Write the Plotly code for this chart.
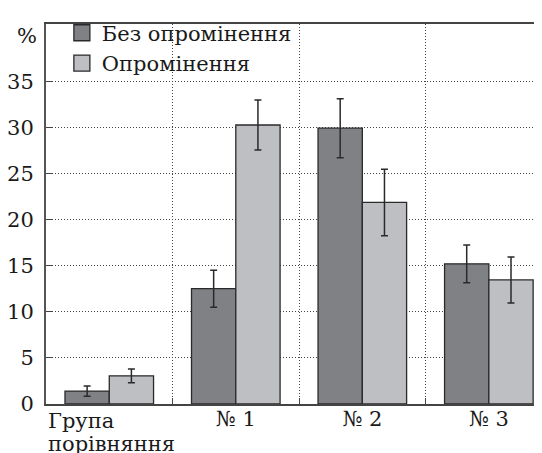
import plotly.graph_objects as go

categories = ["Група<br>порівняння", "№ 1", "№ 2", "№ 3"]
series_names = ["Без опромінення", "Опромінення"]
no_irr = [1.4, 12.5, 29.9, 15.2]
no_irr_err = [0.55, 2.0, 3.2, 2.05]
irr = [3.05, 30.25, 21.85, 13.45]
irr_err = [0.75, 2.7, 3.6, 2.5]
y_ticks = [0, 5, 10, 15, 20, 25, 30, 35]

DARK = "#808185"
LIGHT = "#bebfc3"
EDGE = "#2a2a2a"
FONT = "DejaVu Serif"
FS = 21

xs = list(range(len(categories)))
fig = go.Figure()
for name, vals, errs, col in [(series_names[0], no_irr, no_irr_err, DARK),
                              (series_names[1], irr, irr_err, LIGHT)]:
    fig.add_trace(go.Bar(
        x=xs, y=vals, name=name, showlegend=False,
        marker=dict(color=col, line=dict(color=EDGE, width=1.3)),
        error_y=dict(type="data", array=errs, color="#2a2a2a", thickness=1.5, width=3.5),
    ))
    fig.add_trace(go.Scatter(
        x=[None], y=[None], mode="markers", name=name,
        marker=dict(symbol="square", size=18, color=col, line=dict(color=EDGE, width=1.3)),
    ))

# category labels on a secondary x axis
fig.add_trace(go.Scatter(x=[None], y=[None], xaxis="x2", showlegend=False))

xr = [-0.5, 3.42]
grid = dict(showgrid=True, gridcolor="#444444", gridwidth=1, griddash="1px,2px")
first_lines = categories[0].split("<br>")
annotations = [
    dict(text="%", xref="paper", yref="paper", x=-0.038, y=0.969, xanchor="center",
         yanchor="middle", showarrow=False, font=dict(family=FONT, size=FS)),
]
for i, line in enumerate(first_lines):
    annotations.append(dict(text=line, xref="x", yref="paper", x=xr[0], y=0, xshift=0,
                            yshift=-17 - 23 * i, xanchor="left", yanchor="middle",
                            showarrow=False, font=dict(family=FONT, size=FS)))

fig.update_layout(
    width=542, height=453,
    margin=dict(l=38, r=8, t=5, b=57),
    paper_bgcolor="white", plot_bgcolor="white",
    barmode="group", bargap=0.3, bargroupgap=0,
    font=dict(family=FONT, size=FS, color="#1a1a1a"),
    xaxis=dict(type="linear", range=xr, tickvals=[0.5, 1.5, 2.5], showticklabels=False,
               ticks="inside", ticklen=6, tickcolor="#444", showline=True, linecolor="#444",
               linewidth=1.5, mirror=True, zeroline=False, automargin=False, **grid),
    xaxis2=dict(type="linear", range=xr, overlaying="x", anchor="y", side="bottom",
                tickvals=xs[1:], ticktext=categories[1:], showgrid=False, ticks="",
                showline=False, zeroline=False, automargin=False,
                tickfont=dict(family=FONT, size=FS)),
    yaxis=dict(range=[0, 41.2], tickvals=y_ticks, ticks="inside", ticklen=6, tickcolor="#444",
               showline=True, linecolor="#555", linewidth=2, zeroline=False, automargin=False,
               tickfont=dict(family=FONT, size=FS), ticklabelstandoff=6, **grid),
    legend=dict(x=0.032, y=1.03, xanchor="left", yanchor="top", bgcolor="rgba(0,0,0,0)",
                font=dict(family=FONT, size=FS), itemsizing="trace", tracegroupgap=0,
                borderwidth=0),
    annotations=annotations,
)
fig.write_html("out.html")
